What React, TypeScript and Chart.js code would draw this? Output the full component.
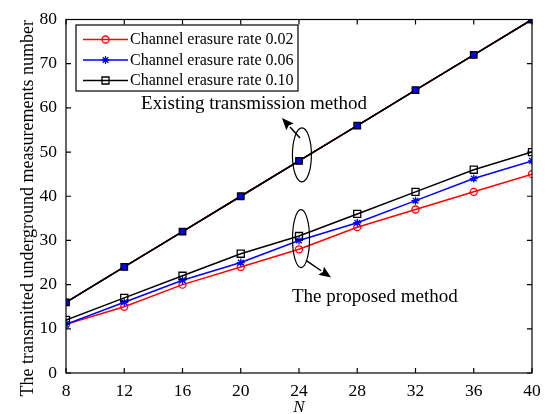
import { useEffect, useRef } from 'react';
import { Chart, registerables } from 'chart.js';

Chart.register(...registerables);

// ---- data ----
const nValues = [8, 12, 16, 20, 24, 28, 32, 36, 40];
const seriesLabels = [
  'Channel erasure rate 0.02',
  'Channel erasure rate 0.06',
  'Channel erasure rate 0.10',
];
const proposed002 = [11, 15, 20, 24, 28, 33, 37, 41, 45];
const proposed006 = [11, 16, 21, 25, 30, 34, 39, 44, 48];
const proposed010 = [12, 17, 22, 27, 31, 36, 41, 46, 50];
const existing002 = [16, 24, 32, 40, 48, 56, 64, 72, 80];
const existing006 = [16, 24, 32, 40, 48, 56, 64, 72, 80];
const existing010 = [16, 24, 32, 40, 48, 56, 64, 72, 80];
const xTickValues = [8, 12, 16, 20, 24, 28, 32, 36, 40];
const yTickValues = [0, 10, 20, 30, 40, 50, 60, 70, 80];
const xTitle = 'N';
const yTitle = 'The transmitted underground measurements number';
const existingNote = 'Existing transmission method';
const proposedNote = 'The proposed method';

const FONT = "'Liberation Serif', 'Times New Roman', serif";
const RED = '#ff0000';
const BLUE = '#0000ff';
const BLACK = '#000000';

const pts = (ys: number[]) => ys.map((y, i) => ({ x: nValues[i], y }));

function drawMarker(ctx: CanvasRenderingContext2D, kind: string, x: number, y: number, color: string) {
  ctx.save();
  ctx.strokeStyle = color;
  ctx.lineWidth = 1.3;
  ctx.beginPath();
  if (kind === 'circle') {
    ctx.arc(x, y, 3.5, 0, Math.PI * 2);
  } else if (kind === 'star') {
    const r = 4;
    const d = r * Math.SQRT1_2;
    ctx.moveTo(x - r, y); ctx.lineTo(x + r, y);
    ctx.moveTo(x, y - r); ctx.lineTo(x, y + r);
    ctx.moveTo(x - d, y - d); ctx.lineTo(x + d, y + d);
    ctx.moveTo(x - d, y + d); ctx.lineTo(x + d, y - d);
  } else {
    ctx.rect(x - 3.5, y - 3.5, 7, 7);
  }
  ctx.stroke();
  ctx.restore();
}

function arrow(ctx: CanvasRenderingContext2D, x0: number, y0: number, x1: number, y1: number) {
  const ang = Math.atan2(y1 - y0, x1 - x0);
  const len = 12;
  const half = 5;
  const bx = x1 - len * Math.cos(ang);
  const by = y1 - len * Math.sin(ang);
  ctx.beginPath();
  ctx.moveTo(x0, y0);
  ctx.lineTo(bx, by);
  ctx.stroke();
  ctx.beginPath();
  ctx.moveTo(x1, y1);
  ctx.lineTo(bx + half * Math.sin(ang), by - half * Math.cos(ang));
  ctx.lineTo(bx + 2 * Math.cos(ang), by + 2 * Math.sin(ang));
  ctx.lineTo(bx - half * Math.sin(ang), by + half * Math.cos(ang));
  ctx.closePath();
  ctx.fill();
}

const framePlugin = {
  id: 'frameAndNotes',
  afterDatasetsDraw(chart: any) {
    const { ctx, chartArea, scales } = chart;
    const { left, right, top, bottom } = chartArea;
    const xs = scales.x;
    const ys = scales.y;
    ctx.save();
    // frame
    ctx.strokeStyle = BLACK;
    ctx.lineWidth = 1.2;
    ctx.strokeRect(left, top, right - left, bottom - top);
    // inward ticks
    const tl = 5;
    ctx.beginPath();
    xTickValues.forEach((v) => {
      const px = xs.getPixelForValue(v);
      ctx.moveTo(px, bottom); ctx.lineTo(px, bottom - tl);
      ctx.moveTo(px, top); ctx.lineTo(px, top + tl);
    });
    yTickValues.forEach((v) => {
      const py = ys.getPixelForValue(v);
      ctx.moveTo(left, py); ctx.lineTo(left + tl, py);
      ctx.moveTo(right, py); ctx.lineTo(right - tl, py);
    });
    ctx.stroke();

    // annotations: ellipses
    ctx.lineWidth = 1.2;
    ctx.beginPath();
    ctx.ellipse(xs.getPixelForValue(24.2), ys.getPixelForValue(49.35), 9.5, 27, 0, 0, Math.PI * 2);
    ctx.stroke();
    ctx.beginPath();
    ctx.ellipse(xs.getPixelForValue(24.14), ys.getPixelForValue(30.4), 8.5, 29, 0, 0, Math.PI * 2);
    ctx.stroke();
    // arrows
    ctx.fillStyle = BLACK;
    ctx.lineWidth = 1.5;
    arrow(ctx, xs.getPixelForValue(24.07), ys.getPixelForValue(53.2), xs.getPixelForValue(22.83), ys.getPixelForValue(57.7));
    arrow(ctx, xs.getPixelForValue(24.48), ys.getPixelForValue(25.5), xs.getPixelForValue(26.2), ys.getPixelForValue(21.6));
    // annotation text
    ctx.font = `19px ${FONT}`;
    ctx.textBaseline = 'middle';
    ctx.textAlign = 'right';
    ctx.fillText(existingNote, xs.getPixelForValue(28.67), ys.getPixelForValue(60.85));
    ctx.textAlign = 'left';
    ctx.fillText(proposedNote, xs.getPixelForValue(23.52), ys.getPixelForValue(17.1));

    // legend
    const lx = 76, ly = 25, lw = 222, lh = 66;
    ctx.fillStyle = '#ffffff';
    ctx.fillRect(lx, ly, lw, lh);
    ctx.strokeStyle = BLACK;
    ctx.lineWidth = 1.2;
    ctx.strokeRect(lx, ly, lw, lh);
    const rows = [
      { color: RED, kind: 'circle' },
      { color: BLUE, kind: 'star' },
      { color: BLACK, kind: 'rect' },
    ];
    rows.forEach((r, i) => {
      const ry = ly + 14.5 + i * 20.5;
      ctx.strokeStyle = r.color;
      ctx.lineWidth = 1.5;
      ctx.beginPath();
      ctx.moveTo(lx + 7, ry); ctx.lineTo(lx + 52, ry);
      ctx.stroke();
      drawMarker(ctx, r.kind, lx + 29.5, ry, r.color);
      ctx.fillStyle = BLACK;
      ctx.font = `16px ${FONT}`;
      ctx.textAlign = 'left';
      ctx.textBaseline = 'middle';
      ctx.fillText(seriesLabels[i], lx + 54, ry + 0.5);
    });

    // y axis title
    ctx.save();
    ctx.translate(28, (top + bottom) / 2 + 12);
    ctx.rotate(-Math.PI / 2);
    ctx.font = `18px ${FONT}`;
    ctx.fillStyle = BLACK;
    ctx.textAlign = 'center';
    ctx.textBaseline = 'middle';
    ctx.fillText(yTitle, 0, 0);
    ctx.restore();

    ctx.restore();
  },
};

export default function App() {
  const ref = useRef<HTMLCanvasElement | null>(null);
  useEffect(() => {
    document.body.style.margin = '0';
    const canvas = ref.current;
    if (!canvas) return;
    const common = { showLine: true, borderWidth: 1.5, pointBorderWidth: 1.3, pointHoverRadius: 0 };
    const chart = new Chart(canvas, {
      type: 'scatter',
      data: {
        datasets: [
          // existing method (three overlapping curves)
          { ...common, label: seriesLabels[1] + ' (existing)', data: pts(existing006), borderColor: BLACK,
            pointBorderColor: BLUE, pointBackgroundColor: BLUE, pointStyle: 'star', pointRadius: 3, order: 1 },
          { ...common, label: seriesLabels[2] + ' (existing)', data: pts(existing010), borderColor: BLACK,
            pointBorderColor: BLACK, pointBackgroundColor: '#14147a', pointStyle: 'rect', pointRadius: 4.6, order: 2 },
          { ...common, label: seriesLabels[0] + ' (existing)', data: pts(existing002), borderColor: RED,
            pointBorderColor: RED, pointBackgroundColor: 'rgba(0,0,0,0)', pointStyle: 'circle', pointRadius: 3, order: 3 },
          // proposed method
          { ...common, label: seriesLabels[2], data: pts(proposed010), borderColor: BLACK,
            pointBorderColor: BLACK, pointBackgroundColor: 'rgba(0,0,0,0)', pointStyle: 'rect', pointRadius: 5, order: 4 },
          { ...common, label: seriesLabels[1], data: pts(proposed006), borderColor: BLUE,
            pointBorderColor: BLUE, pointBackgroundColor: BLUE, pointStyle: 'star', pointRadius: 4, order: 5 },
          { ...common, label: seriesLabels[0], data: pts(proposed002), borderColor: RED,
            pointBorderColor: RED, pointBackgroundColor: 'rgba(0,0,0,0)', pointStyle: 'circle', pointRadius: 3.5, order: 6 },
        ],
      },
      options: {
        animation: false,
        responsive: false,
        devicePixelRatio: 1,
        layout: { padding: { left: 0, right: 26, top: 18, bottom: 0 } },
        plugins: { legend: { display: false }, tooltip: { enabled: false }, title: { display: false } },
        events: [],
        scales: {
          x: {
            type: 'linear',
            min: 8,
            max: 40,
            afterBuildTicks: (s: any) => { s.ticks = xTickValues.map((v) => ({ value: v })); },
            afterFit: (s: any) => { s.height = 41; },
            ticks: { color: BLACK, font: { family: FONT, size: 17.5 }, padding: 8, maxRotation: 0, autoSkip: false },
            grid: { display: false, drawTicks: false },
            border: { display: false },
            title: { display: true, text: xTitle, color: BLACK, padding: 0,
              font: { family: FONT, size: 17, style: 'italic', lineHeight: 0.75 } },
          },
          y: {
            type: 'linear',
            min: 0,
            max: 80,
            afterBuildTicks: (s: any) => { s.ticks = yTickValues.map((v) => ({ value: v })); },
            afterFit: (s: any) => { s.width = 66; },
            ticks: { color: BLACK, font: { family: FONT, size: 17.5 }, padding: 9 },
            grid: { display: false, drawTicks: false },
            border: { display: false },
          },
        },
      },
      plugins: [framePlugin],
    } as any);
    return () => chart.destroy();
  }, []);
  return (
    <div style={{ position: 'fixed', left: 0, top: 0, width: 558, height: 414, background: '#fff' }}>
      <canvas ref={ref} width={558} height={414} style={{ width: 558, height: 414, display: 'block' }} />
    </div>
  );
}
